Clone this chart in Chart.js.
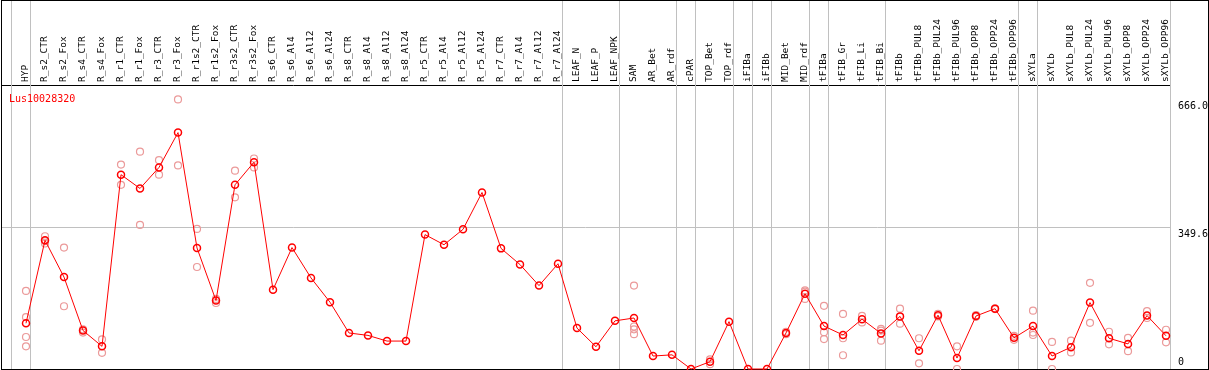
<!DOCTYPE html>
<html>
<head>
<meta charset="utf-8">
<script src="https://cdn.jsdelivr.net/npm/chart.js@4/dist/chart.umd.min.js"></script>
<style>
  body { margin: 0; background: #fff; }
  #chart { display: block; }
</style>
</head>
<body>
<canvas id="chart" width="1209" height="370"></canvas>
<script>

// section 1# data

const geneName = "Lus10028320";

const samples = [
  "HYP",
  "R_s2_CTR", "R_s2_Fox", "R_s4_CTR", "R_s4_Fox",
  "R_r1_CTR", "R_r1_Fox", "R_r3_CTR", "R_r3_Fox",
  "R_r1s2_CTR", "R_r1s2_Fox", "R_r3s2_CTR", "R_r3s2_Fox",
  "R_s6_CTR", "R_s6_Al4", "R_s6_Al12", "R_s6_Al24",
  "R_s8_CTR", "R_s8_Al4", "R_s8_Al12", "R_s8_Al24",
  "R_r5_CTR", "R_r5_Al4", "R_r5_Al12", "R_r5_Al24",
  "R_r7_CTR", "R_r7_Al4", "R_r7_Al12", "R_r7_Al24",
  "LEAF_N", "LEAF_P", "LEAF_NPK",
  "SAM", "AR_Bet", "AR_rdf", "cPAR", "TOP_Bet", "TOP_rdf",
  "iFIBa", "iFIBb", "MID_Bet", "MID_rdf",
  "tFIBa", "tFIB_Gr", "tFIB_Li", "tFIB_Bi", "tFIBb",
  "tFIBb_PUL8", "tFIBb_PUL24", "tFIBb_PUL96", "tFIBb_OPP8", "tFIBb_OPP24", "tFIBb_OPP96",
  "sXYLa", "sXYLb",
  "sXYLb_PUL8", "sXYLb_PUL24", "sXYLb_PUL96", "sXYLb_OPP8", "sXYLb_OPP24", "sXYLb_OPP96"
];

// mean expression (the red line)
const means = [
  113,
  318, 227, 95, 56,
  480, 446, 498, 584,
  299, 169, 455, 511,
  196, 300, 225, 165,
  89, 83, 69, 69,
  332, 307, 345, 436,
  298, 258, 206, 260,
  101, 55, 119,
  126, 32, 35, 0, 18, 117,
  0, 0, 89, 186,
  106, 84, 123, 88, 130,
  45, 133, 27, 131, 149, 77,
  106, 32,
  54, 164, 76, 62, 132, 82
];

// single replicates (the pale circles), empty where the picture shows none
const replicates = [
  [193, 128, 79, 56],
  [328, 316, 310], [300, 155], [98, 90], [73, 40],
  [505, 455], [537, 356], [516, 480], [666, 503],
  [346, 252], [173, 163], [490, 424], [520, 498],
  [], [], [], [],
  [], [], [], [],
  [], [], [], [],
  [], [], [], [],
  [], [], [],
  [206, 105, 98, 86], [], [], [], [24, 12], [],
  [], [], [92, 86], [194, 173, 191],
  [156, 91, 74], [136, 34, 76], [131, 115], [95, 70, 99], [149, 112],
  [76, 14], [136, 130], [56, 0], [133, 129], [150, 148], [72, 82],
  [144, 90, 84], [67, 0],
  [70, 41], [213, 114], [92, 61], [77, 44], [143, 126], [97, 66]
];

const yTicks = [0, 349.6, 666.0];
const yTickLabels = ["0", "349.6", "666.0"];

// a grey separator is drawn right after these sample indexes
const groupBreaks = [-1, 0, 28, 31, 34, 35, 37, 38, 39, 41, 42, 45, 52, 53, 60];


// section 2# datasets

const meanPoints = means.map((v, i) => ({ x: i, y: v }));
const repPoints = [];
replicates.forEach((reps, i) => {
  reps.forEach(v => repPoints.push({ x: i, y: v }));
});


// section 3# extra drawing (frame, separators, title, y labels)

const frame = {
  id: "frame",
  beforeDatasetsDraw(chart) {
    const ctx = chart.ctx;
    const xs = chart.scales.x;
    const bottom = chart.chartArea.bottom;
    ctx.save();
    ctx.lineWidth = 1;
    ctx.strokeStyle = "#c0c0c0";
    groupBreaks.forEach(b => {
      const px = Math.floor(xs.getPixelForValue(b + 0.24)) + 0.5;
      ctx.beginPath();
      ctx.moveTo(px, 0);
      ctx.lineTo(px, bottom);
      ctx.stroke();
    });
    ctx.strokeStyle = "#000";
    ctx.strokeRect(1.5, 0.5, chart.width - 2, bottom);
    ctx.restore();
  },
  afterDraw(chart) {
    const ctx = chart.ctx;
    const ys = chart.scales.y;
    const area = chart.chartArea;
    ctx.save();
    ctx.font = "10px 'DejaVu Sans Mono'";
    ctx.fillStyle = "#ff0000";
    ctx.textBaseline = "alphabetic";
    ctx.fillText(geneName, 9, 102);
    ctx.fillStyle = "#000";
    yTicks.forEach((v, i) => {
      let py = ys.getPixelForValue(v) + 10;
      if (py > area.bottom - 3) py = area.bottom - 4;
      ctx.fillText(yTickLabels[i], area.right + 8, py);
    });
    ctx.restore();
  }
};


// section 4# chart

const ctx = document.getElementById("chart").getContext("2d");

const chart = new Chart(ctx, {
  type: "line",
  data: {
    datasets: [
      {
        data: meanPoints,
        borderColor: "#ff0000",
        borderWidth: 1,
        pointRadius: 3.5,
        pointBorderWidth: 1.5,
        pointBorderColor: "#ff0000",
        pointBackgroundColor: "rgba(0,0,0,0)",
        clip: false,
        order: 0
      },
      {
        data: repPoints,
        showLine: false,
        pointRadius: 3.5,
        pointBorderWidth: 1.2,
        pointBorderColor: "#eb9a9a",
        pointBackgroundColor: "rgba(0,0,0,0)",
        clip: false,
        order: 1
      }
    ]
  },
  options: {
    responsive: false,
    animation: false,
    layout: { autoPadding: false, padding: { left: 1, right: 0, top: 0, bottom: 1 } },
    plugins: {
      legend: { display: false },
      tooltip: { enabled: false }
    },
    scales: {
      x: {
        type: "linear",
        position: "top",
        min: -1.316,
        max: 60.21,
        afterBuildTicks: s => { s.ticks = samples.map((c, i) => ({ value: i })); },
        afterFit: s => { s.height = 85; s.paddingLeft = 0; s.paddingRight = 0; },
        ticks: {
          autoSkip: false,
          minRotation: 90,
          maxRotation: 90,
          padding: 3,
          labelOffset: 11,
          color: "#000",
          font: { family: "'DejaVu Sans Mono'", size: 9.5 },
          callback: v => samples[v]
        },
        grid: { display: false, drawTicks: false },
        border: { display: true, color: "#000", width: 1 }
      },
      y: {
        position: "right",
        min: 0,
        max: 701.6,
        afterBuildTicks: s => { s.ticks = yTicks.map(v => ({ value: v })); },
        afterFit: s => { s.width = 39; },
        ticks: { display: false },
        grid: {
          drawTicks: false,
          lineWidth: 1,
          color: c => (c.tick && c.tick.value === 349.6 ? "#c0c0c0" : "rgba(0,0,0,0)")
        },
        border: { display: false }
      }
    }
  },
  plugins: [frame]
});

</script>
</body>
</html>
